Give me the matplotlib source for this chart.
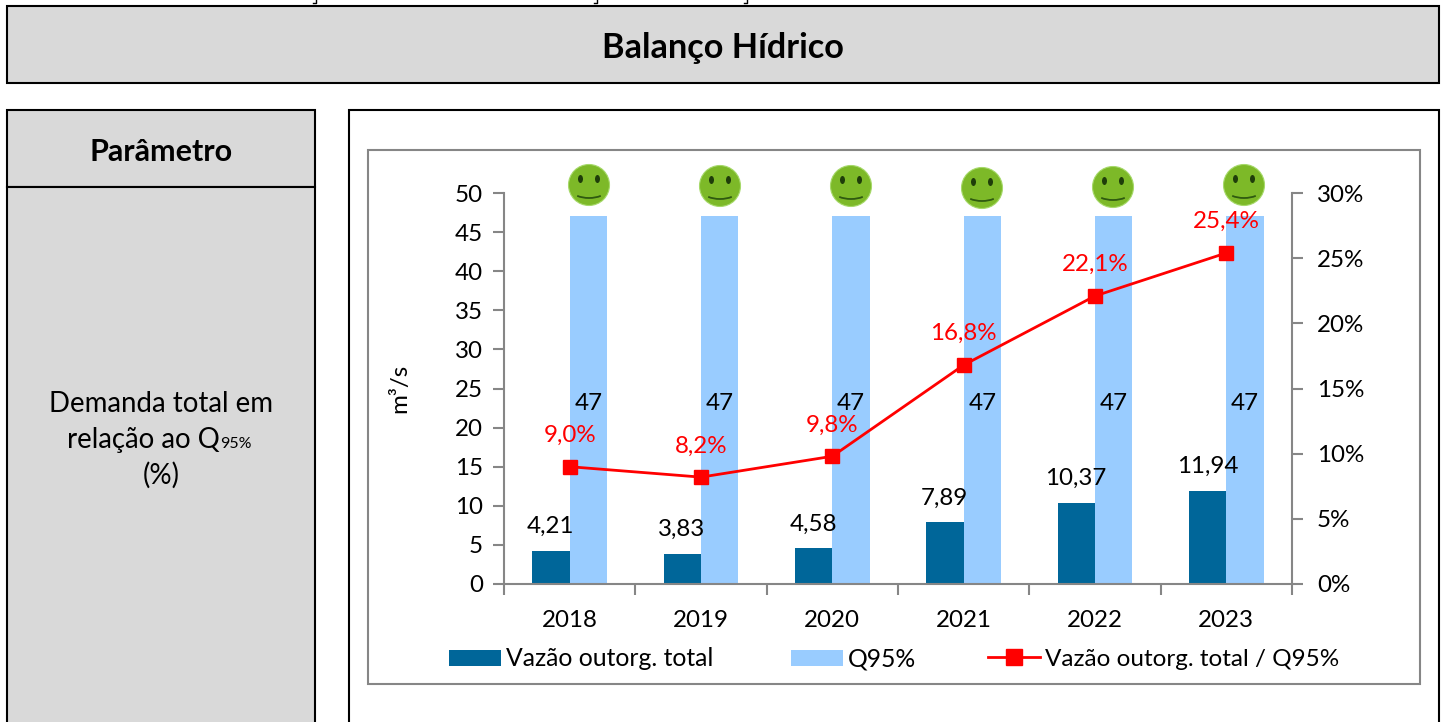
import matplotlib
matplotlib.use("Agg")
import matplotlib.pyplot as plt
import numpy as np
from matplotlib.lines import Line2D
from matplotlib.patches import Arc, Circle, Ellipse, Patch, Rectangle

plt.rcParams["font.family"] = ["Lato", "DejaVu Sans"]

years = ["2018", "2019", "2020", "2021", "2022", "2023"]
vazao = [4.21, 3.83, 4.58, 7.89, 10.37, 11.94]
q95 = [47, 47, 47, 47, 47, 47]
razao = [9.0, 8.2, 9.8, 16.8, 22.1, 25.4]

DARK = "#006699"
LIGHT = "#99CCFF"
RED = "#FF0000"
GREY = "#868686"
PANEL = "#D9D9D9"
W, H = 1445, 722
FS = 17.4
FS_PANEL = 19.9


def comma(v, fmt):
    return format(v, fmt).replace(".", ",")


fig = plt.figure(figsize=(W / 100, H / 100), dpi=100)

# pixel layer for the boxes around the chart
bg = fig.add_axes([0, 0, 1, 1])
bg.set_xlim(0, W)
bg.set_ylim(H, 0)
bg.axis("off")


def box(x0, y0, x1, y1, fc, ec="black", lw=1.5):
    bg.add_patch(Rectangle((x0, y0), x1 - x0, y1 - y0, fc=fc, ec=ec, lw=lw))


box(7, 6, 1439, 83, PANEL)
box(7, 110, 315, 187, PANEL)
box(7, 187, 315, 740, PANEL)
box(349, 110, 1439, 740, "white")
box(368, 150, 1420, 684, "white", ec=GREY, lw=1.5)

# specks left by the text line cropped at the top edge
for cx in [315, 596, 746]:
    bg.plot([cx - 2, cx + 1, cx + 1], [3, 3, 0], color="black", lw=1)

bg.text(723, 48, "Balanço Hídrico", ha="center", va="center", fontsize=24.7, fontweight="bold")
bg.text(161, 152, "Parâmetro", ha="center", va="center", fontsize=22, fontweight="bold")
bg.text(161, 412, "Demanda total em", ha="center", va="baseline", fontsize=FS_PANEL)
bg.text(220, 448, "relação ao Q", ha="right", va="baseline", fontsize=FS_PANEL)
bg.text(220, 448, "95%", ha="left", va="baseline", fontsize=11.5)
bg.text(161, 484, "(%)", ha="center", va="baseline", fontsize=FS_PANEL)

# chart
left, right, top, bottom = 504, 1292, 193, 584
ax = fig.add_axes([left / W, 1 - bottom / H, (right - left) / W, (bottom - top) / H])
ax.patch.set_alpha(0)
x = np.arange(len(years))
bw = 0.285
ax.bar(x - bw / 2, vazao, bw, color=DARK)
ax.bar(x + bw / 2, q95, bw, color=LIGHT)
ax.set_xlim(-0.5, 5.5)
ax.set_ylim(0, 50)
ax.set_yticks(range(0, 51, 5))
ax.set_xticks(x)
ax.set_xticklabels(years)
ax.set_xticks(np.arange(-0.5, 6), minor=True)
ax.tick_params(axis="x", which="major", length=0, pad=18.5, labelsize=FS)
ax.tick_params(axis="x", which="minor", length=8, width=1.5, color=GREY)
ax.tick_params(axis="y", length=8, width=1.5, color=GREY, pad=7, labelsize=FS)
ax.set_ylabel("m³/s", fontsize=FS, labelpad=32)
for s in ["top", "right"]:
    ax.spines[s].set_visible(False)
for s in ["left", "bottom"]:
    ax.spines[s].set_color(GREY)
    ax.spines[s].set_linewidth(1.5)

ax2 = ax.twinx()
ax2.patch.set_alpha(0)
ax2.plot(x, razao, color=RED, lw=2, marker="s", ms=10)
ax2.set_ylim(0, 30)
ax2.set_yticks(range(0, 31, 5))
ax2.set_yticklabels([f"{v}%" for v in range(0, 31, 5)])
ax2.tick_params(axis="y", length=8, width=1.5, color=GREY, pad=10, labelsize=FS)
for s in ["top", "left", "bottom"]:
    ax2.spines[s].set_visible(False)
ax2.spines["right"].set_color(GREY)
ax2.spines["right"].set_linewidth(1.5)

for i, v in enumerate(vazao):
    ax.annotate(comma(v, ".2f"), (i - 0.145, v), xytext=(0, 17.5), textcoords="offset points",
                ha="center", va="center", fontsize=FS)
for i, v in enumerate(q95):
    ax.annotate(str(v), (i + bw / 2, v / 2), xytext=(0, -2), textcoords="offset points",
                ha="center", va="center", fontsize=FS)
for i, v in enumerate(razao):
    ax2.annotate(comma(v, ".1f") + "%", (i, v), xytext=(0, 22.5), textcoords="offset points",
                 ha="center", va="center", fontsize=FS, color=RED)

# smileys above the Q95% bars
smile_x = [589, 720, 851, 982, 1113, 1244]
smile_y = [185, 186, 186, 188, 187, 185]
GREEN = "#7DB928"
for sx, sy in zip(smile_x, smile_y):
    bg.add_patch(Circle((sx, sy), 20.5, fc=GREEN, ec="#A6D96A", lw=0.8))
    for dx in (-8.5, 8.5):
        bg.add_patch(Ellipse((sx + dx, sy - 6), 5, 8, fc="#1F3D0A", ec="none"))
    bg.add_patch(Arc((sx, sy + 4), 36, 18, theta1=30, theta2=150, ec="#2F5A10", lw=1.3))

# legend in two parts so the gaps follow the original
bar_legend = fig.legend([Patch(fc=DARK), Patch(fc=LIGHT)], ["Vazão outorg. total", "Q95%"],
                        loc="center left", bbox_to_anchor=(449 / W, 1 - 659 / H), ncol=2,
                        frameon=False, prop={"size": 17.8}, handlelength=2.1, handleheight=0.6,
                        handletextpad=0.2, columnspacing=3.15, borderpad=0, borderaxespad=0)
fig.legend([Line2D([], [], color=RED, lw=2, marker="s", ms=11)], ["Vazão outorg. total / Q95%"],
           loc="center left", bbox_to_anchor=(988 / W, 1 - 659 / H),
           frameon=False, prop={"size": 17.5}, handlelength=2.15, handleheight=0.6,
           handletextpad=0.2, borderpad=0, borderaxespad=0)

fig.savefig("out.png", dpi=100)
